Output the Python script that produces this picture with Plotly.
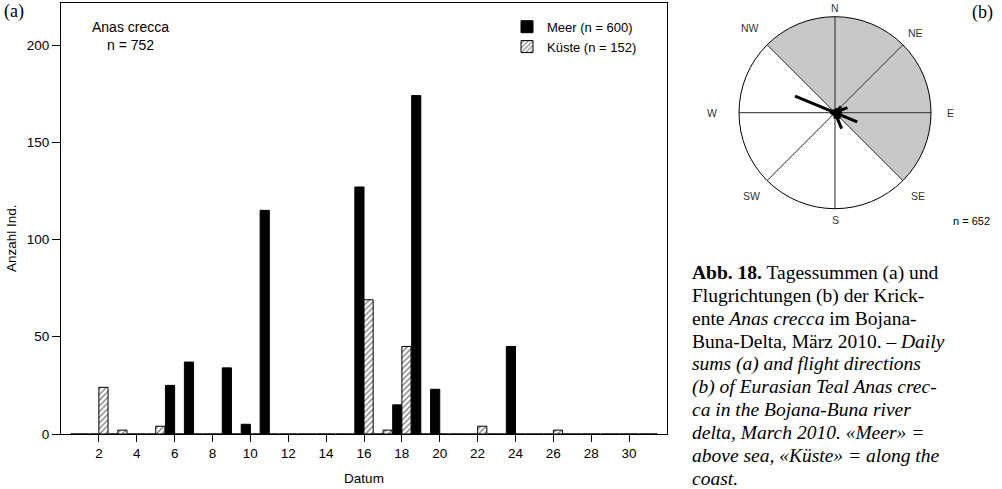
import math
import plotly.graph_objects as go

# ---------------- data (a): daily sums ----------------
days = list(range(1, 32))
meer = [0, 0, 0, 0, 0, 25, 37, 0, 34, 5, 115, 0, 0, 0, 0, 127,
        0, 15, 174, 23, 0, 0, 0, 45, 0, 0, 0, 0, 0, 0, 0]
kueste = [0, 24, 2, 0, 4, 0, 0, 0, 0, 0, 0, 0, 0, 0, 0, 69,
          2, 45, 0, 0, 0, 4, 0, 0, 0, 2, 0, 0, 0, 0, 0]
x_ticks = list(range(2, 31, 2))
y_ticks = [0, 50, 100, 150, 200]

# ---------------- data (b): flight directions ----------------
compass_angles = [0, 45, 90, 135, 180, 225, 270, 315]
compass_labels = ["N", "NE", "E", "SE", "S", "SW", "W", "NW"]
compass_label_r = [1.09, 1.18, 1.205, 1.23, 1.12, 1.23, 1.28, 1.25]
shaded_sectors = [337.5, 22.5, 67.5, 112.5]
rose_dirs = [0, 22.5, 45, 67.5, 90, 112.5, 135, 157.5,
             180, 202.5, 225, 247.5, 270, 292.5, 315, 337.5]
rose_len = [0.03, 0.05, 0.09, 0.14, 0.07, 0.25, 0.08, 0.18,
            0.06, 0.03, 0.03, 0.04, 0.05, 0.45, 0.04, 0.03]

caption_lines = [
    "<b>Abb. 18.</b> Tagessummen (a) und",
    "Flugrichtungen (b) der Krick-",
    "ente <i>Anas crecca</i> im Bojana-",
    "Buna-Delta, März 2010. – <i>Daily</i>",
    "<i>sums (a) and flight directions</i>",
    "<i>(b) of Eurasian Teal Anas crec-</i>",
    "<i>ca in the Bojana-Buna river</i>",
    "<i>delta, March 2010. «Meer» =</i>",
    "<i>above sea, «Küste» = along the</i>",
    "<i>coast.</i>",
]

W, H = 1002, 489
SANS = "Liberation Sans, Arial, sans-serif"
SERIF = "Liberation Serif, Times New Roman, serif"

# rose placement (pixels)
RCX, RCY, RR = 835, 112.7, 96

fig = go.Figure()

fig.add_trace(go.Bar(
    x=days, y=meer, name="Meer (n = 600)",
    marker=dict(color="black", line=dict(color="black", width=1)),
))
fig.add_trace(go.Bar(
    x=days, y=kueste, name="Küste (n = 152)",
    marker=dict(color="white", line=dict(color="black", width=1),
                pattern=dict(shape="/", fgcolor="black", bgcolor="white",
                             size=4, solidity=0.35)),
))

# rose diagram: grey sectors
fig.add_trace(go.Barpolar(
    theta=shaded_sectors, r=[1] * len(shaded_sectors), width=45,
    marker=dict(color="#c8c8c8", line=dict(width=0)),
    showlegend=False, hoverinfo="skip", subplot="polar",
))
# rose diagram: sector spokes
st, sr = [], []
for a in compass_angles:
    st += [a, a, None]
    sr += [0, 1, None]
fig.add_trace(go.Scatterpolar(
    theta=st, r=sr, mode="lines", line=dict(color="#2a2a2a", width=1),
    showlegend=False, hoverinfo="skip", subplot="polar",
))
# rose diagram: direction lines
rt, rr = [], []
for d, l in zip(rose_dirs, rose_len):
    rt += [d, d, None]
    rr += [0, l, None]
fig.add_trace(go.Scatterpolar(
    theta=rt, r=rr, mode="lines",
    line=dict(color="black", width=3),
    showlegend=False, hoverinfo="skip", subplot="polar",
))

x0, x1 = 61, 667
y0, y1 = 3, 434
fig.update_layout(
    width=W, height=H,
    margin=dict(l=0, r=0, t=0, b=0),
    paper_bgcolor="white", plot_bgcolor="white",
    barmode="group", bargap=0.03, bargroupgap=0,
    font=dict(family=SANS, size=13.5, color="black"),
    xaxis=dict(
        domain=[x0 / W, x1 / W], range=[0, 32],
        tickmode="array", tickvals=x_ticks,
        ticks="outside", ticklen=7, tickcolor="black",
        showline=True, linecolor="black", linewidth=1, mirror=True,
        showgrid=False, zeroline=False, automargin=False,
        title=dict(text="Datum", standoff=13, font=dict(size=13.5)),
    ),
    yaxis=dict(
        domain=[1 - y1 / H, 1 - y0 / H], range=[0, 221.6],
        tickmode="array", tickvals=y_ticks,
        ticks="outside", ticklen=8, tickcolor="black",
        showline=True, linecolor="black", linewidth=1, mirror=True,
        showgrid=False, zeroline=False, automargin=False,
    ),
    legend=dict(
        x=0.506, y=0.976, xanchor="left", yanchor="top",
        bgcolor="rgba(0,0,0,0)", font=dict(size=13), tracegroupgap=0,
    ),
    polar=dict(
        domain=dict(x=[(RCX - RR) / W, (RCX + RR) / W],
                    y=[1 - (RCY + RR) / H, 1 - (RCY - RR) / H]),
        bgcolor="white",
        angularaxis=dict(
            direction="clockwise", rotation=90,
            showticklabels=False, ticks="", showgrid=False,
            showline=True, linecolor="black", linewidth=1,
        ),
        radialaxis=dict(visible=False, range=[0, 1]),
    ),
)

ann = []
ann.append(dict(text="Anzahl Ind.", textangle=-90, x=12 / W, y=1 - 238 / H,
                xanchor="center", yanchor="middle",
                xref="paper", yref="paper", showarrow=False,
                font=dict(family=SANS, size=13.5)))
ann.append(dict(text="Anas crecca<br>n = 752", x=130 / W, y=1 - 36.5 / H,
                xanchor="center", yanchor="middle",
                xref="paper", yref="paper", showarrow=False, align="center",
                font=dict(family=SANS, size=14)))
ann.append(dict(text="(a)", x=2 / W, y=1 - 11 / H, xanchor="left", yanchor="middle",
                xref="paper", yref="paper", showarrow=False,
                font=dict(family=SERIF, size=18)))
ann.append(dict(text="(b)", x=995 / W, y=1 - 12.5 / H, xanchor="right", yanchor="middle",
                xref="paper", yref="paper", showarrow=False,
                font=dict(family=SERIF, size=18)))
ann.append(dict(text="n = 652", x=971 / W, y=1 - 220.5 / H,
                xanchor="center", yanchor="middle",
                xref="paper", yref="paper", showarrow=False,
                font=dict(family=SANS, size=11)))
# compass labels around the rose
for a, lab, lr in zip(compass_angles, compass_labels, compass_label_r):
    px = RCX + RR * lr * math.sin(math.radians(a))
    py = RCY - RR * lr * math.cos(math.radians(a))
    ann.append(dict(text=lab, x=px / W, y=1 - py / H,
                    xanchor="center", yanchor="middle",
                    xref="paper", yref="paper", showarrow=False,
                    font=dict(family=SANS, size=10.5, color="#333333")))
for i, line in enumerate(caption_lines):
    ann.append(dict(text=line, x=690 / W, y=1 - (273 + 22.8 * i) / H,
                    xanchor="left", yanchor="middle",
                    xref="paper", yref="paper", showarrow=False,
                    font=dict(family=SERIF, size=19.5)))
fig.update_layout(annotations=ann)

fig.write_html("out.html")
